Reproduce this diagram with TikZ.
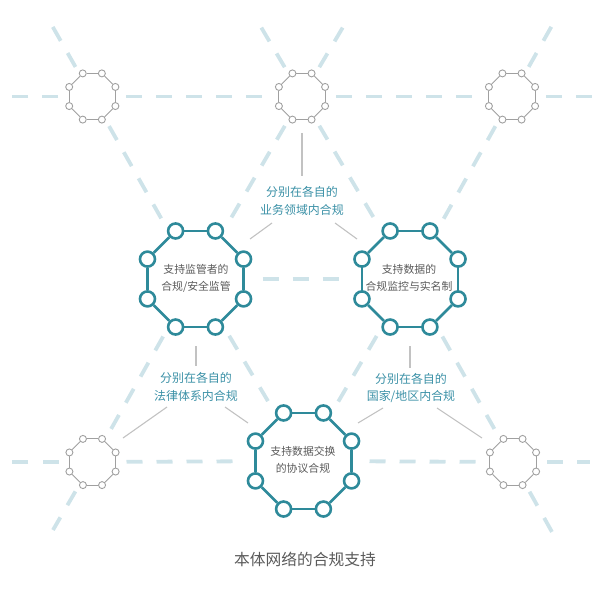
\documentclass[tikz,border=0pt]{standalone}
\usepackage{fontspec}
\setmainfont{Noto Sans CJK SC}
\definecolor{tealo}{HTML}{2E8A9A}
\definecolor{tealtxt}{HTML}{3A90A6}
\definecolor{dashc}{HTML}{CEE3E9}
\definecolor{grayo}{HTML}{A0A0A0}
\definecolor{connc}{HTML}{C2C2C2}
\definecolor{txtc}{HTML}{5A5A5A}
\newcommand{\octo}[5]{%
  \foreach \k in {1,...,8}{\path (#2) ++({22.5+45*\k}:#3bp) node[#4] (#1\k) {};}
  \foreach \k in {1,...,8}{\pgfmathtruncatemacro\jj{mod(\k,8)+1}\draw[#5] (#1\k) -- (#1\jj);}
}
\begin{document}
\begin{tikzpicture}[x=1bp,y=-1bp,
  lat/.style={draw=dashc, line width=3.8bp, dash pattern=on 16bp off 14bp},
  bigc/.style={circle, draw=tealo, line width=2.6bp, fill=white, minimum size=15bp, inner sep=0pt},
  bige/.style={draw=tealo, line width=2.6bp},
  smallc/.style={circle, draw=grayo, line width=0.9bp, fill=white, minimum size=7bp, inner sep=0pt},
  smalle/.style={draw=grayo, line width=0.9bp},
  connline/.style={draw=connc, line width=1.1bp},
  lbl/.style={text=tealtxt, font=\fontsize{12}{18}\selectfont, align=center, inner sep=0pt},
  ntext/.style={text=txtc, font=\fontsize{10.9}{17}\selectfont, align=center, inner sep=0pt},
  ttl/.style={text=txtc, font=\fontsize{15.8}{18}\selectfont, inner sep=0pt},
  ss/.style={shorten <=34bp},
  se/.style={shorten >=34bp},
  ls/.style={shorten <=66bp},
  le/.style={shorten >=66bp},
]
\useasboundingbox (0,0) rectangle (608,594);
% lattice centres
\coordinate (A) at (92.3,96.5);
\coordinate (B) at (302,96.5);
\coordinate (C) at (512,96.5);
\coordinate (D) at (195.5,279);
\coordinate (E) at (410,279);
\coordinate (F) at (92.5,462);
\coordinate (G) at (303.5,461);
\coordinate (H) at (513,462);
% free ends of the lattice lines
\coordinate (A1) at (50,22);
\coordinate (B1) at (258,22);
\coordinate (B2) at (346,22);
\coordinate (C1) at (554,22);
\coordinate (F1) at (53,530);
\coordinate (H1) at (552,532);
\coordinate (TL) at (12,96.5);
\coordinate (TR) at (597,96.5);
\coordinate (BL) at (12,462);
\coordinate (BR) at (590,462);
% dashed lattice
\draw[lat,ss,se] (A) -- (B);
\draw[lat,ss,se] (B) -- (C);
\draw[lat,ss,le] (A) -- (D);
\draw[lat,ss,le] (B) -- (D);
\draw[lat,ss,le] (B) -- (E);
\draw[lat,ss,le] (C) -- (E);
\draw[lat,shorten <=67bp,shorten >=67bp] (D) -- (E);
\draw[lat,ls,se] (D) -- (F);
\draw[lat,ls,le] (D) -- (G);
\draw[lat,ls,le] (E) -- (G);
\draw[lat,ls,se] (E) -- (H);
\draw[lat,ss,le] (F) -- (G);
\draw[lat,ls,se] (G) -- (H);
\draw[lat,ss] (A) -- (A1);
\draw[lat,ss] (B) -- (B1);
\draw[lat,ss] (B) -- (B2);
\draw[lat,ss] (C) -- (C1);
\draw[lat,ss] (F) -- (F1);
\draw[lat,ss] (H) -- (H1);
\draw[lat,ss] (A) -- (TL);
\draw[lat,ss] (C) -- (TR);
\draw[lat,ss] (F) -- (BL);
\draw[lat,ss] (H) -- (BR);
% octagons
\octo{a}{A}{25}{smallc}{smalle}
\octo{b}{B}{25}{smallc}{smalle}
\octo{c}{C}{25}{smallc}{smalle}
\octo{f}{F}{25}{smallc}{smalle}
\octo{h}{H}{25}{smallc}{smalle}
\octo{d}{D}{52}{bigc}{bige}
\octo{e}{E}{52}{bigc}{bige}
\octo{g}{G}{52}{bigc}{bige}
% node texts
\node[ntext] (dt) at (196,278) {支持监管者的\\合规/安全监管};
\node[ntext] (et) at (409,278) {支持数据的\\合规监控与实名制};
\node[ntext] (gt) at (303,460) {支持数据交换\\的协议合规};
% labels
\node[lbl] (l1) at (302,201) {分别在各自的\\业务领域内合规};
\node[lbl] (l2) at (196,386.5) {分别在各自的\\法律体系内合规};
\node[lbl] (l3) at (411,388) {分别在各自的\\国家/地区内合规};
\node[ttl] (title) at (305,559) {本体网络的合规支持};
% connectors
\coordinate (p1) at (302,133); \coordinate (q1) at (302,176);
\coordinate (p2) at (250,239); \coordinate (q2) at (272,223);
\coordinate (p3) at (357,239); \coordinate (q3) at (335,223);
\coordinate (p4) at (196,346); \coordinate (q4) at (196,366);
\coordinate (p5) at (410,346); \coordinate (q5) at (410,368);
\coordinate (p6) at (123,438); \coordinate (q6) at (167,407);
\coordinate (p7) at (248,423); \coordinate (q7) at (225,407);
\coordinate (p8) at (358,423); \coordinate (q8) at (383,408);
\coordinate (p9) at (482,438); \coordinate (q9) at (437,408);
\foreach \i in {1,...,9}{\draw[connline] (p\i) -- (q\i);}
\end{tikzpicture}
\end{document}
